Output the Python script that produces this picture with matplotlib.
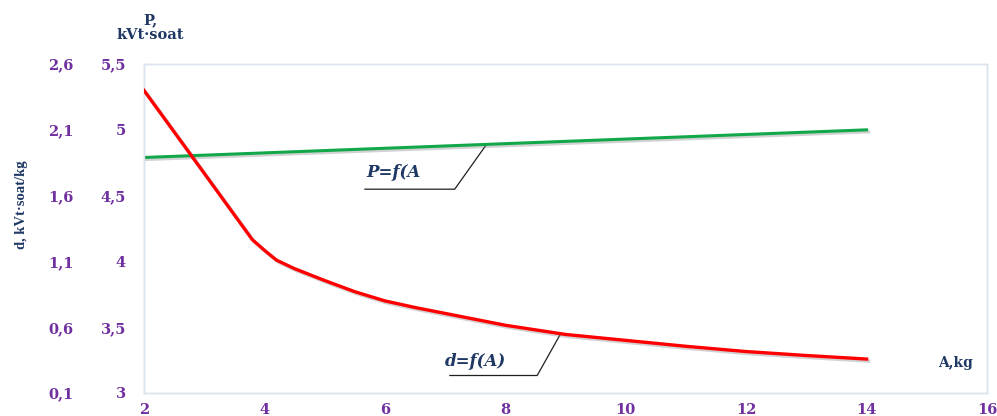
import matplotlib
matplotlib.use("Agg")
import matplotlib.pyplot as plt
import matplotlib.patheffects as pe
from matplotlib.ticker import FuncFormatter

# ---- data ----
A_P = [2, 14]
P_vals = [4.79, 5.00]

A_d = [2, 3, 3.8, 4.0, 4.2, 4.5, 5, 5.5, 6, 6.5, 7, 8, 9, 10, 11, 12, 13, 14]
d_vals = [2.40, 1.77, 1.265, 1.185, 1.11, 1.045, 0.955, 0.87, 0.80, 0.75, 0.705, 0.615,
          0.545, 0.50, 0.455, 0.415, 0.385, 0.358]

x_ticks = [2, 4, 6, 8, 10, 12, 14, 16]
P_ticks = [3, 3.5, 4, 4.5, 5, 5.5]
d_ticks = [0.1, 0.6, 1.1, 1.6, 2.1, 2.6]

NAVY = "#1F3864"
PURPLE = "#7030A0"
WIDE = ["DejaVu Serif"]
NARROW = ["Liberation Serif", "DejaVu Serif"]

plt.rcParams["font.family"] = WIDE
plt.rcParams["font.weight"] = "bold"

fig = plt.figure(figsize=(9.97, 4.16), dpi=100)
ax = fig.add_axes([0.1444, 0.0553, 0.8456, 0.7907])
ax.set_xlim(2, 16)
ax.set_ylim(3, 5.5)

ax2 = ax.twinx()
ax2.set_ylim(0.1, 2.6)

shadow = [pe.SimpleLineShadow(offset=(1.5, -1.5), shadow_color="gray", alpha=0.35), pe.Normal()]
ax.plot(A_P, P_vals, color="#12A84A", lw=2.2, path_effects=shadow, zorder=3)
ax2.plot(A_d, d_vals, color="#FF0000", lw=2.4, path_effects=shadow, zorder=3,
         solid_joinstyle="round")

fmt = FuncFormatter(lambda v, p: ("%g" % v).replace(".", ","))
ax.set_xticks(x_ticks)
ax.set_yticks(P_ticks)
ax.yaxis.set_major_formatter(fmt)
ax.xaxis.set_major_formatter(fmt)
ax2.set_yticks(d_ticks)
ax2.yaxis.set_major_formatter(fmt)
ax2.yaxis.tick_left()

ax.tick_params(axis="both", length=0, labelsize=10.5, labelcolor=PURPLE)
ax.tick_params(axis="x", pad=7)
ax.tick_params(axis="y", pad=13)
ax2.tick_params(axis="y", length=0, labelsize=10.5, labelcolor=PURPLE, pad=60)
for lbl in ax2.get_yticklabels():
    lbl.set_horizontalalignment("center")
for lbl in ax.get_xticklabels() + ax.get_yticklabels() + ax2.get_yticklabels():
    lbl.set_fontweight("bold")

for a in (ax, ax2):
    for s in a.spines.values():
        s.set_color("#DCE4EF")
        s.set_linewidth(1.0)
ax.spines["left"].set_color("#C9D9EE")
ax.spines["bottom"].set_color("#D3DCE8")

# annotations (leader lines) in P coordinates
ax.plot([5.67, 7.16, 7.69], [4.549, 4.549, 4.89], color="#202020", lw=0.9, zorder=2)
ax.text(5.70, 4.678, "P=f(A", fontsize=12, fontstyle="italic", fontweight="bold",
        color=NAVY, va="center", ha="left")
ax.plot([7.08, 8.53, 8.91], [3.133, 3.133, 3.443], color="#202020", lw=0.9, zorder=2)
ax.text(7.0, 3.239, "d=f(A)", fontsize=12, fontstyle="italic", fontweight="bold",
        color=NAVY, va="center", ha="left")

ax.text(0.983, 0.09, "A,kg", transform=ax.transAxes, fontsize=10, fontweight="bold",
        color=NAVY, ha="right", va="center")

fig.text(150 / 997, 1 - 20 / 416, "P,", fontsize=10.5, fontweight="bold", color=NAVY,
         ha="center", va="center")
fig.text(150 / 997, 1 - 35 / 416, "kVt·soat", fontsize=10.5, fontweight="bold", color=NAVY,
         ha="center", va="center")
fig.text(22 / 997, 1 - 205 / 416, "d, kVt·soat/kg", fontsize=10.5, fontweight="bold", color=NAVY,
         ha="center", va="center", rotation=90, family=NARROW)

fig.savefig("out.png", dpi=100)
